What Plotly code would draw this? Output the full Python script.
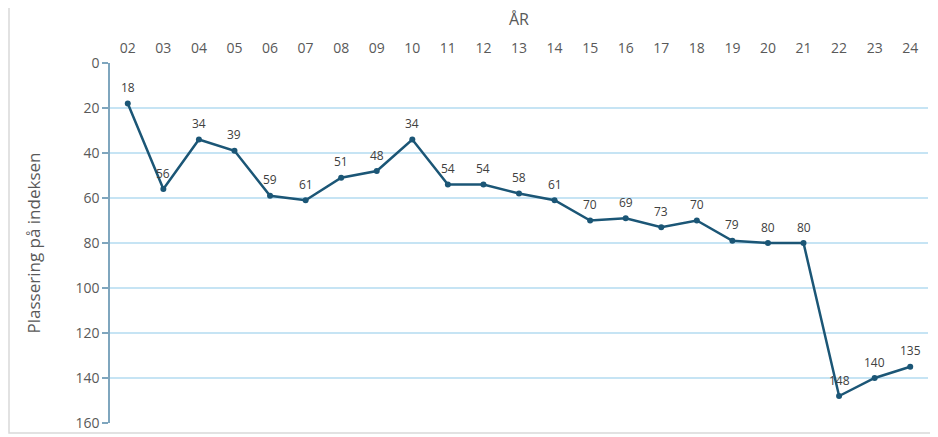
import plotly.graph_objects as go

years = ["02","03","04","05","06","07","08","09","10","11","12","13","14","15","16","17","18","19","20","21","22","23","24"]
rank = [18,56,34,39,59,61,51,48,34,54,54,58,61,70,69,73,70,79,80,80,148,140,135]
y_ticks = [0,20,40,60,80,100,120,140,160]

OFF = 8  # browser default body margin
W, H = 938 - OFF, 437 - OFF
L, R, T, B = 110 - OFF, 10, 63 - OFF, 14
pw, ph = W - L - R, H - T - B

fig = go.Figure()
fig.add_trace(go.Scatter(
    x=years, y=rank, mode="lines+markers",
    line=dict(color="#1B5676", width=2.5),
    marker=dict(color="#1B5676", size=6),
    cliponaxis=False, showlegend=False,
))

for i, v in enumerate(rank):
    fig.add_annotation(x=i, y=v, text=str(v), showarrow=False, yshift=16,
                       font=dict(family="Open Sans, sans-serif", size=12, color="#404040"))

fig.update_layout(
    width=W, height=H,
    margin=dict(l=L, r=R, t=T, b=B),
    paper_bgcolor="white", plot_bgcolor="white",
    font=dict(family="Open Sans, sans-serif", color="#595959"),
    xaxis=dict(
        type="category", side="top", range=[-0.5, 22.5], automargin=False,
        showgrid=False, showline=False, ticks="",
        tickfont=dict(size=14, color="#595959"), ticklabelstandoff=6,
        title=dict(text="ÅR", font=dict(size=16, color="#595959"), standoff=8),
    ),
    yaxis=dict(
        range=[160, 0], tickvals=y_ticks, automargin=False,
        showgrid=True, gridcolor="#C6E4F4", gridwidth=1.5,
        showline=True, linecolor="#7FA6BE", linewidth=1.5,
        ticks="outside", ticklen=6, tickcolor="#7FA6BE", tickwidth=1.5,
        tickfont=dict(size=14, color="#595959"),
        title=dict(text="Plassering på indeksen", font=dict(size=17, color="#595959"), standoff=30),
        zeroline=False,
    ),
    shapes=[dict(
        type="rect", xref="paper", yref="paper",
        x0=(1 - L) / pw, x1=(927 - L) / pw,
        y0=-(425 - (T + ph)) / ph, y1=1 + (T + 5) / ph,
        line=dict(color="#D9D9D9", width=1.5), layer="below",
    )],
)

fig.write_html("out.html")
